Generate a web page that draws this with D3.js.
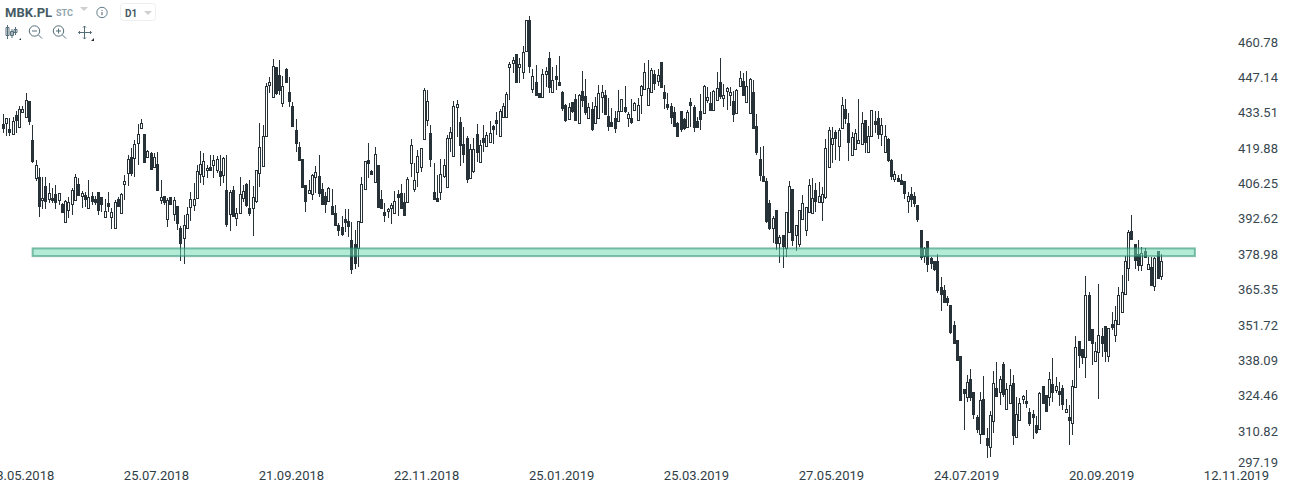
<!DOCTYPE html>
<html><head><meta charset="utf-8">
<script src="https://cdn.jsdelivr.net/npm/d3@7/dist/d3.min.js"></script>
<style>html,body{margin:0;padding:0;background:#fff}svg{display:block}text{font-family:Roboto,sans-serif}</style>
</head><body><svg id="c" width="1291" height="490"></svg>
<script>
const symbol="MBK.PL", exchange="STC", interval="D1";
const priceLabels=[460.78,447.14,433.51,419.88,406.25,392.62,378.98,365.35,351.72,338.09,324.46,310.82,297.19];
const dateLabels=["23.05.2018","25.07.2018","21.09.2018","22.11.2018","25.01.2019","25.03.2019","27.05.2019","24.07.2019","20.09.2019","12.11.2019"];
const dateTickIndex=[5.6,46.6,87.6,128.7,169.7,210.7,251.7,292.8,333.8,374.8];
const zoneTop=381.6, zoneBottom=378.6, zoneStartIndex=9.1, zoneEndIndex=362.3;
const opens=[
429.6,430.1,427.5,425.8,432.9,428.3,434.1,432.4,438.4,423.4,408.9,409.1,400.1,405.5,400.5,401.2,402.6,400.4,398.7,391.9,396.5,398.9,400.1,406.4,401.9,402.1,397.1,401.8,400.6,403.3,401.4,393.8,399.1,393.8,389.3,400.5,395.1,406.6,410.5,416.7,416.3,422.1,428.1,425.7,417.0,418.3,413.1,414.2,400.4,401.7,392.8,401.3,395.0,397.8,389.3,385.5,389.6,397.4,398.2,400.9,410.2,409.4,411.7,412.9,413.9,411.8,411.4,
409.7,404.1,395.0,404.0,393.4,395.1,401.2,406.3,397.1,397.3,399.9,410.5,413.2,425.1,444.7,439.8,451.7,448.5,437.8,450.6,441.8,436.5,427.3,420.6,416.1,406.1,402.8,402.7,409.3,409.5,404.4,401.8,400.0,398.0,395.3,390.5,389.9,392.9,392.0,384.7,383.3,381.9,391.9,404.4,415.7,411.4,407.3,413.8,400.6,395.6,396.1,397.1,395.4,402.6,402.8,399.4,399.4,414.4,404.6,411.2,413.0,423.6,431.0,426.0,403.3,400.9,
403.5,409.6,405.1,424.3,417.4,436.2,430.2,421.7,424.0,408.6,411.6,425.6,415.0,424.0,421.0,422.7,428.8,431.0,425.1,432.1,432.1,451.4,452.9,456.4,451.7,449.5,457.8,469.5,443.2,445.8,441.5,440.1,449.0,454.9,442.0,448.1,445.8,441.9,436.8,431.6,437.9,439.2,430.1,442.3,440.4,432.0,435.3,430.1,432.0,440.1,440.7,432.5,430.3,431.9,430.8,434.7,436.2,432.0,431.7,435.1,431.2,
440.7,443.2,437.0,441.9,448.8,446.3,453.3,441.9,437.1,436.5,434.2,429.9,434.6,431.5,428.5,438.0,436.2,430.7,434.6,433.9,438.9,437.5,435.1,438.8,445.8,439.7,442.4,440.9,438.4,433.7,444.3,446.1,437.9,433.9,441.9,428.8,416.1,409.5,407.6,399.1,389.6,396.3,383.8,386.8,381.8,387.9,404.5,386.7,383.3,393.1,388.7,395.8,395.1,404.1,399.6,399.6,401.3,413.1,422.0,426.5,421.2,
428.1,435.2,429.8,417.7,420.1,422.1,421.7,431.0,418.9,424.8,430.6,431.7,425.8,418.9,423.6,415.7,408.2,408.7,408.0,407.5,399.7,402.4,401.7,398.2,388.7,378.8,384.3,377.8,376.6,376.6,366.7,365.4,362.4,359.8,351.9,346.2,340.1,327.4,324.4,331.1,326.1,316.6,310.2,323.4,308.4,305.2,314.9,327.6,326.1,
337.0,319.8,322.1,329.6,308.8,315.3,323.4,322.7,318.4,317.6,313.4,312.1,328.4,325.0,324.2,329.2,326.9,326.5,327.7,318.4,316.5,314.2,328.0,345.8,342.7,339.6,363.5,350.4,338.1,341.5,347.7,351.6,340.0,352.3,348.1,352.3,357.0,363.9,373.9,388.2,383.2,379.3,375.1,380.5,373.5,374.3,367.0,380.5,370.8];
const highs=[
433.4,431.7,431.7,432.1,434.7,436.5,436.5,441.4,438.4,429.2,415.7,412.5,409.0,409.0,406.8,404.8,406.0,402.8,399.0,400.3,401.6,404.8,410.2,408.6,403.7,403.5,408.0,403.5,401.8,403.3,401.4,400.6,403.3,397.0,400.3,401.3,402.8,409.9,417.6,420.2,423.4,429.4,431.5,425.7,419.5,418.6,418.3,418.6,408.0,401.8,400.9,401.6,401.3,398.0,390.2,394.5,397.4,403.2,406.7,413.8,419.2,418.3,413.8,417.6,417.6,417.4,417.6,
416.7,417.6,404.1,405.7,397.3,409.1,406.0,406.7,408.0,405.7,411.8,429.8,429.2,445.5,447.6,454.5,451.7,454.2,448.1,451.0,447.8,437.9,431.5,422.8,416.1,406.1,408.0,410.3,413.4,417.6,406.7,403.5,405.4,404.5,398.3,391.3,394.2,396.8,396.8,391.9,388.7,392.3,409.3,415.0,422.1,411.8,420.6,413.8,404.1,399.2,397.3,399.0,403.7,404.1,406.3,402.8,409.0,423.6,414.4,419.5,420.2,443.6,442.7,429.2,414.4,409.9,
416.1,416.1,425.2,428.5,438.4,438.8,432.1,428.5,424.9,421.7,424.0,429.4,423.4,429.0,426.6,430.8,429.2,434.3,435.3,437.5,441.8,453.6,455.5,456.5,454.9,459.6,469.7,471.2,450.6,452.3,441.6,450.8,451.7,457.2,451.7,452.3,455.8,442.3,437.3,437.5,438.2,441.1,441.1,450.0,446.8,437.8,438.2,439.8,444.6,444.6,442.7,439.4,435.6,434.6,442.7,439.1,444.2,434.3,439.1,438.2,439.4,
444.6,453.2,454.2,451.0,450.4,450.6,453.3,444.6,441.4,437.5,436.2,430.5,434.6,431.7,435.0,439.5,436.9,432.4,441.0,444.6,444.0,442.0,442.7,449.7,454.9,445.0,444.0,444.0,442.3,442.9,450.0,449.1,450.1,447.2,446.5,433.4,420.8,421.1,408.6,400.3,393.9,396.3,386.8,386.8,395.5,407.6,404.5,390.6,396.4,402.2,397.7,408.2,408.6,406.9,407.3,405.4,423.6,428.5,428.5,427.3,427.9,
439.8,439.2,433.7,426.6,427.5,439.2,434.1,431.0,428.8,434.8,434.7,434.4,431.7,429.2,424.3,415.9,411.4,409.9,410.3,407.6,403.2,405.1,403.2,398.2,388.7,382.3,384.3,378.4,376.6,379.4,370.6,367.4,363.3,359.8,353.5,346.2,340.1,327.4,332.7,335.0,326.1,317.2,326.3,332.4,312.2,318.8,334.3,337.8,332.4,
337.7,329.6,335.1,332.8,324.4,323.8,325.0,327.0,320.0,319.1,317.0,326.1,328.4,325.0,333.8,339.4,332.2,330.2,329.0,323.4,321.2,330.9,347.8,345.8,342.7,371.0,364.9,350.4,345.4,367.9,350.8,351.6,350.8,357.0,359.3,366.9,371.4,378.7,388.7,394.5,383.2,384.8,382.0,381.6,378.2,378.4,378.4,380.5,379.3];
const lows=[
426.2,425.0,425.0,425.8,426.0,428.3,434.1,432.4,429.3,414.7,407.7,393.8,396.9,396.9,399.0,399.2,396.9,398.3,395.8,391.9,393.4,394.5,400.1,402.3,397.2,397.4,397.1,398.3,398.3,394.5,395.8,393.8,395.8,389.2,389.3,398.1,395.1,400.3,405.8,409.6,409.3,413.8,427.9,414.7,416.3,412.3,413.1,404.2,398.7,398.3,389.7,398.9,392.3,388.7,376.9,375.5,389.6,392.0,396.1,400.9,406.9,406.0,408.9,411.8,408.6,410.8,405.8,
406.7,389.7,388.4,393.9,390.4,395.1,399.4,397.4,393.9,386.5,399.2,405.4,413.2,425.1,441.6,439.8,440.7,440.7,436.0,445.6,436.2,428.9,418.9,415.4,405.4,395.8,402.8,400.3,402.8,401.6,398.7,395.4,400.0,394.9,390.2,386.5,386.5,388.1,386.1,371.6,373.8,374.6,391.9,404.4,408.6,410.3,407.3,397.4,396.9,391.9,393.2,390.9,395.4,393.9,397.3,394.6,399.4,409.0,403.5,405.1,411.2,423.6,428.9,412.9,400.8,400.0,
400.3,408.6,405.1,418.9,417.4,424.7,413.5,414.4,406.9,408.6,410.5,415.0,415.0,418.9,421.0,422.7,421.7,425.3,425.1,431.7,432.1,438.8,449.1,445.5,445.5,446.9,457.8,449.3,441.4,440.6,440.1,440.1,443.9,441.6,442.0,442.7,444.7,434.7,430.5,431.1,433.7,431.2,430.1,436.2,433.0,431.7,427.0,430.1,432.0,433.7,433.4,427.0,428.9,426.2,430.8,434.3,433.7,428.5,429.6,434.6,431.2,
433.4,443.2,437.0,441.6,442.7,444.2,443.7,435.3,435.0,429.6,428.8,424.9,426.5,427.3,428.5,428.5,426.6,428.4,427.3,433.9,437.8,435.1,435.1,438.8,439.1,436.0,435.0,436.5,430.5,433.7,444.3,440.7,437.9,433.9,428.1,417.6,407.7,407.7,391.3,388.7,383.8,381.0,376.1,374.1,378.4,387.7,382.5,380.7,382.3,393.1,386.4,395.8,395.1,395.8,399.6,392.3,400.5,413.1,414.7,415.7,415.4,
428.1,429.6,415.4,417.7,420.1,421.7,421.7,418.5,418.5,424.8,426.0,423.8,421.1,418.9,415.0,408.0,407.3,407.3,406.6,400.8,395.4,397.7,397.7,391.9,377.1,376.1,372.6,373.7,373.0,364.5,357.6,360.7,359.5,348.7,344.7,338.5,323.3,311.6,322.5,322.9,315.9,310.3,306.2,310.2,300.9,301.3,310.6,324.2,321.2,
324.4,319.8,322.1,305.8,308.8,315.3,321.6,320.2,313.3,308.1,310.0,312.1,321.9,318.7,321.0,322.5,326.0,321.0,319.1,318.0,305.8,309.7,328.0,335.6,337.0,331.8,346.2,336.8,338.1,323.7,339.9,337.9,337.7,350.1,345.6,352.1,356.6,363.9,369.2,385.1,373.5,372.9,372.9,377.8,373.5,367.6,365.3,369.9,369.4];
const closes=[
428.1,431.7,426.6,430.6,431.1,435.2,435.2,438.7,430.8,415.4,413.6,398.1,400.9,400.0,402.8,400.1,399.5,402.8,395.8,400.0,399.5,404.1,409.0,402.3,402.9,400.8,401.6,399.9,399.6,396.4,398.9,396.0,398.1,395.5,399.4,398.1,402.6,407.5,415.9,410.7,421.9,425.6,429.8,415.0,419.0,412.3,416.7,404.2,401.3,399.4,400.1,398.9,400.1,391.5,383.8,390.5,394.7,400.5,400.5,411.3,414.3,415.2,412.7,412.0,415.7,416.1,409.6,
416.3,391.1,403.2,394.1,395.1,402.6,403.6,398.5,395.3,401.3,411.7,420.6,424.8,444.1,445.6,451.8,441.4,442.8,444.1,445.9,438.6,428.9,422.4,415.7,405.4,400.0,404.1,409.8,410.9,403.1,398.7,398.7,404.8,395.0,390.6,388.7,387.0,391.8,390.2,373.7,376.1,392.0,406.3,415.2,414.7,410.3,417.9,397.7,397.2,394.5,396.9,398.3,399.8,401.4,397.3,394.6,408.2,421.3,407.8,417.1,420.2,442.5,438.3,415.9,400.8,400.0,
410.2,413.6,424.0,426.3,436.4,437.3,421.6,418.1,408.2,420.0,419.8,418.9,421.3,422.7,425.4,426.0,427.8,430.0,434.4,436.4,441.0,452.6,454.4,445.9,452.6,457.2,469.5,452.0,447.9,440.9,440.1,448.7,449.9,443.9,446.4,446.9,444.7,435.9,431.1,436.0,434.7,431.2,440.9,438.9,434.3,436.0,427.6,436.4,441.4,441.8,433.4,428.9,428.9,428.1,434.4,439.1,434.6,433.3,430.5,437.8,436.8,
444.2,449.5,443.3,450.4,445.5,448.5,444.0,439.7,436.2,432.4,428.8,424.9,427.8,427.9,434.2,437.0,428.5,428.4,431.6,444.2,440.0,435.1,442.3,443.3,440.5,440.7,443.4,441.9,433.4,442.5,447.2,440.7,444.2,446.9,428.1,418.9,409.7,407.7,392.2,389.6,393.2,383.8,385.9,382.5,395.5,405.7,384.9,390.5,396.3,399.0,397.4,406.1,400.9,400.0,401.8,402.4,420.2,427.3,424.2,424.3,427.3,
436.8,432.0,422.7,424.4,425.9,423.3,429.8,422.7,424.8,434.8,429.7,425.8,429.0,424.8,415.8,409.6,410.2,407.7,406.6,403.1,401.7,400.8,399.2,393.1,378.4,381.8,375.7,375.8,373.6,365.7,364.2,360.9,361.1,349.5,345.1,338.5,323.3,326.0,330.2,324.4,317.9,312.1,323.3,310.2,305.9,317.2,329.6,324.8,331.1,
325.6,327.3,328.8,309.8,317.6,321.9,324.6,321.9,314.4,316.7,310.7,325.7,322.1,319.0,331.1,326.1,328.4,325.4,321.5,319.6,315.6,328.4,343.5,340.4,339.9,363.5,346.2,345.0,341.9,348.1,345.3,342.2,350.8,351.4,353.9,363.5,364.7,376.6,387.8,385.1,377.0,375.1,379.7,378.2,375.5,367.6,377.8,370.3,376.6];

const ink="#263238";
const svg=d3.select("#c");
const y=d3.scaleLinear().domain([460.78,297.19]).range([43,43+12*35.36]);
const x=d3.scaleLinear().domain([0,opens.length-1]).range([2.67,1161]);
const px=i=>Math.round(x(i))+.5;
const candles=svg.append("g").attr("shape-rendering","crispEdges");
const data=d3.range(opens.length);
candles.selectAll("line").data(data).join("line")
 .attr("x1",px).attr("x2",px)
 .attr("y1",i=>Math.round(y(highs[i]))).attr("y2",i=>Math.round(y(lows[i])))
 .attr("stroke",ink);
candles.selectAll("rect").data(data).join("rect")
 .attr("x",i=>px(i)-1).attr("width",2)
 .attr("y",i=>Math.round(y(Math.max(opens[i],closes[i])))+.5)
 .attr("height",i=>Math.max(1,Math.round(y(Math.min(opens[i],closes[i])))-Math.round(y(Math.max(opens[i],closes[i])))))
 .attr("fill",i=>closes[i]>=opens[i]?"#fff":ink)
 .attr("stroke",ink);
svg.append("rect").attr("x",x(zoneStartIndex)).attr("width",x(zoneEndIndex)-x(zoneStartIndex))
 .attr("y",y(zoneTop)).attr("height",y(zoneBottom)-y(zoneTop))
 .attr("fill","rgba(110,217,178,.52)").attr("stroke","rgba(38,140,110,.55)").attr("stroke-width",2);
const yAxis=d3.axisRight(y).tickValues(priceLabels).tickFormat(d3.format(".2f")).tickSize(0).tickPadding(0);
const ya=svg.append("g").attr("transform","translate(1238,-1)").call(yAxis);
ya.select(".domain").remove();
ya.selectAll("text").attr("font-size",13).attr("font-family","Roboto").attr("fill","#37474f");
ya.selectAll(".tick").filter(d=>d===297.19).select("text").attr("transform","translate(0,-4)");
const xAxis=d3.axisBottom(x).tickValues(dateTickIndex).tickFormat((d,i)=>dateLabels[i]).tickSize(0).tickPadding(0);
const xa=svg.append("g").attr("transform","translate(0,471)").call(xAxis);
xa.select(".domain").remove();
xa.selectAll("text").attr("font-size",13).attr("font-family","Roboto").attr("fill","#2f3e46");
const hdr=svg.append("g");
hdr.append("text").attr("x",5).attr("y",17).attr("font-size",13).attr("font-weight",700).attr("fill","#455a64").text(symbol);
hdr.append("text").attr("x",56).attr("y",15.5).attr("font-size",9).attr("font-weight",700).attr("fill","#90a4ae").text(exchange);
hdr.append("path").attr("d","M80 7h8l-4 4z").attr("fill","#cfcfcf");
hdr.append("circle").attr("cx",102).attr("cy",12.5).attr("r",5.2).attr("fill","none").attr("stroke","#607d8b");
hdr.append("path").attr("d","M102 10v.9M102 12v3.2").attr("stroke","#455a64");
hdr.append("rect").attr("x",120.5).attr("y",3.5).attr("width",35).attr("height",17).attr("rx",3).attr("fill","#fff").attr("stroke","#eeeeee").attr("stroke-width",1);
hdr.append("text").attr("x",125).attr("y",17).attr("font-size",10).attr("font-weight",700).attr("fill","#455a64").text(interval);
hdr.append("path").attr("d","M144 11h8l-4 4z").attr("fill","#cfcfcf");
const ic=svg.append("g").attr("fill","none").attr("stroke","#546e7a");
ic.append("path").attr("d","M7.5 25v14M6 27.5h3v8h-3zM12 29v9M10.5 31.5h3v4h-3zM15.5 27v8M14 29.5h3v3h-3z");
ic.append("path").attr("d","M19 40h2v-2z").attr("fill","#263238").attr("stroke","none");
ic.append("circle").attr("cx",34.5).attr("cy",31).attr("r",5.2);
ic.append("path").attr("d","M32 31h5M38.5 35l3.5 3.5");
ic.append("circle").attr("cx",58.5).attr("cy",31).attr("r",5.2);
ic.append("path").attr("d","M56 31h5M58.5 28.5v5M62.5 35l3.5 3.5");
ic.append("path").attr("d","M84.5 26v13M78.5 32.5h13M83 27.5l1.5-1.5 1.5 1.5M83 37.5l1.5 1.5 1.5-1.5M80 31l-1.5 1.5 1.5 1.5M90 31l1.5 1.5-1.5 1.5");
ic.append("path").attr("d","M91 41h3v-3z").attr("fill","#263238").attr("stroke","none");
</script></body></html>
